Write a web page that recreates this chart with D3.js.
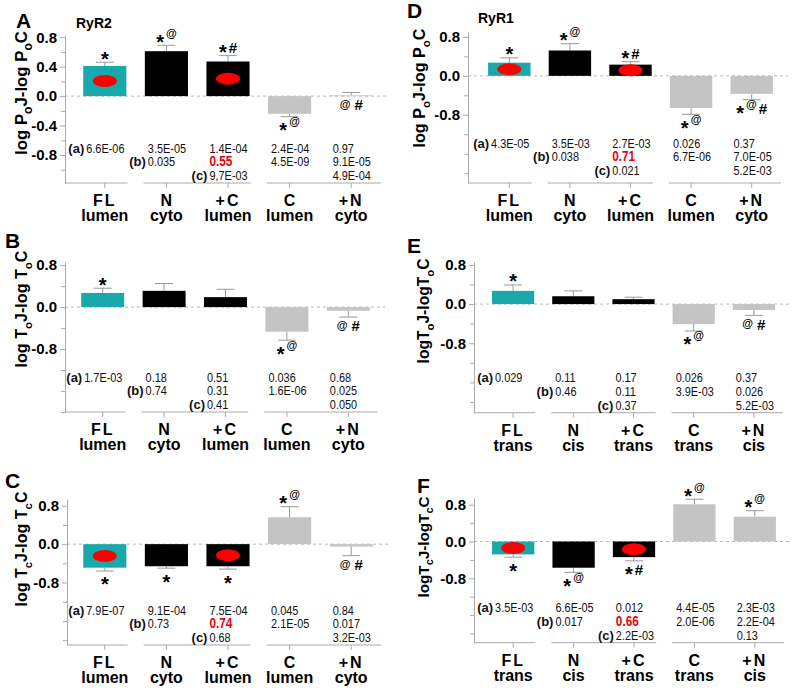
<!DOCTYPE html>
<html><head><meta charset="utf-8">
<script src="https://cdn.jsdelivr.net/npm/d3@7"></script>
<style>body{margin:0;background:#fff} svg{display:block;font-family:Arial,"Liberation Sans",sans-serif}</style>
</head><body><svg id="c" width="799" height="690"></svg>
<script>
// ---------- DATA ----------
const categories = ["FL","N","+C","C","+N"];
const sublabelsLumen = ["lumen","cyto","lumen","lumen","cyto"];
const sublabelsTrans = ["trans","cis","trans","trans","cis"];
const barColors = ["#1aa9aa","#000000","#000000","#c4c4c4","#c4c4c4"];

const valuesA = [0.41, 0.61, 0.47, -0.24, 0.01];
const errorsA = [0.05, 0.08, 0.08, 0.04, 0.04];
const marksA  = ["*","*@","*#","*@","@#"];
const sidesA  = ["up","up","up","down","down"];
const pvalsA  = [["6.6E-06"],["3.5E-05","0.035"],["1.4E-04","0.55","9,7E-03"],["2.4E-04","4.5E-09"],["0.97","9.1E-05","4.9E-04"]];

const valuesB = [0.27, 0.31, 0.19, -0.47, -0.07];
const errorsB = [0.09, 0.14, 0.15, 0.16, 0.12];
const marksB  = ["*","","","*@","@#"];
const sidesB  = ["up","up","up","down","down"];
const pvalsB  = [["1.7E-03"],["0.18","0.74"],["0.51","0.31","0.41"],["0.036","1.6E-06"],["0.68","0.025","0.050"]];

const valuesC = [-0.49, -0.46, -0.46, 0.56, -0.05];
const errorsC = [0.07, 0.04, 0.06, 0.22, 0.19];
const marksC  = ["*","*","*","*@","@#"];
const sidesC  = ["down","down","down","up","down"];
const pvalsC  = [["7.9E-07"],["9.1E-04","0.73"],["7.5E-04","0.74","0.68"],["0.045","2.1E-05"],["0.84","0.017","3.2E-03"]];

const valuesD = [0.27, 0.52, 0.23, -0.66, -0.37];
const errorsD = [0.10, 0.14, 0.06, 0.13, 0.12];
const marksD  = ["*","*@","*#","*@","*@#"];
const sidesD  = ["up","up","up","down","down"];
const pvalsD  = [["4.3E-05"],["3.5E-03","0.038"],["2.7E-03","0.71","0.021"],["0.026","6.7E-06"],["0.37","7.0E-05","5.2E-03"]];

const valuesE = [0.27, 0.16, 0.10, -0.41, -0.12];
const errorsE = [0.12, 0.11, 0.04, 0.14, 0.11];
const marksE  = ["*","","","*@","@#"];
const sidesE  = ["up","up","up","down","down"];
const pvalsE  = [["0.029"],["0.11","0.46"],["0.17","0.11","0.37"],["0.026","3.9E-03"],["0.37","0.026","5.2E-03"]];

const valuesF = [-0.28, -0.57, -0.34, 0.81, 0.54];
const errorsF = [0.06, 0.10, 0.08, 0.11, 0.13];
const marksF  = ["*","*@","*#","*@","*@"];
const sidesF  = ["down","down","down","up","up"];
const pvalsF  = [["3.5E-03"],["6.6E-05","0.017"],["0.012","0.66","2.2E-03"],["4.4E-05","2.0E-06"],["2.3E-03","2.2E-04","0.13"]];

const ylabelA = [["log P",0],["o",1],["J-log P",0],["o",1],["C",0]];
const ylabelB = [["log T",0],["o",1],["J-log T",0],["o",1],["C",0]];
const ylabelC = [["log T",0],["c",1],["J-log T",0],["c",1],["C",0]];
const ylabelD = [["log P",0],["o",1],["J-log P",0],["o",1],["C",0]];
const ylabelE = [["logT",0],["o",1],["J-logT",0],["o",1],["C",0]];
const ylabelF = [["logT",0],["c",1],["J-logT",0],["c",1],["C",0]];

// ---------- LAYOUT ----------
const panels = [
 {letter:"A", values:valuesA, errors:errorsA, marks:marksA, sides:sidesA, pvals:pvalsA, red:true, ell:true, sub:sublabelsLumen, ylab:ylabelA, title:"RyR2",
  L:{axisX:65, top:35, bottom:183, domain:[-1.18,0.83], band:[74,382], major:0.4, minor:0.2, letterPos:[16,28], titlePos:[76,28], ylabPos:[23,93], ylabLen:124, pShift:0}},
 {letter:"B", values:valuesB, errors:errorsB, marks:marksB, sides:sidesB, pvals:pvalsB, red:false, ell:false, sub:sublabelsLumen, ylab:ylabelB,
  L:{axisX:65, top:262, bottom:412, domain:[-2.0,0.86], band:[72,379], major:0.8, minor:0.4, letterPos:[5,248], ylabPos:[23,309], ylabLen:117, pShift:0}},
 {letter:"C", values:valuesC, errors:errorsC, marks:marksC, sides:sidesC, pvals:pvalsC, red:true, ell:true, sub:sublabelsLumen, ylab:ylabelC,
  L:{axisX:67, top:499, bottom:645, domain:[-2.1,0.94], band:[74,382], major:0.8, minor:0.4, letterPos:[5,488], ylabPos:[23,549], ylabLen:115, pShift:0}},
 {letter:"D", values:valuesD, errors:errorsD, marks:marksD, sides:sidesD, pvals:pvalsD, red:true, ell:true, sub:sublabelsLumen, ylab:ylabelD, title:"RyR1",
  L:{axisX:468, top:32, bottom:183, domain:[-2.2,0.9], band:[479,782], major:0.8, minor:0.4, letterPos:[407,18], titlePos:[478,23], ylabPos:[421,88], ylabLen:119, pShift:-5}},
 {letter:"E", values:valuesE, errors:errorsE, marks:marksE, sides:sidesE, pvals:pvalsE, red:false, ell:false, sub:sublabelsTrans, ylab:ylabelE,
  L:{axisX:474, top:262, bottom:412.7, domain:[-2.22,0.86], band:[483,784], major:0.8, minor:0.4, letterPos:[407,253], ylabPos:[425,311], ylabLen:105, pShift:0}},
 {letter:"F", values:valuesF, errors:errorsF, marks:marksF, sides:sidesF, pvals:pvalsF, red:true, ell:true, sub:sublabelsTrans, ylab:ylabelF,
  L:{axisX:474, top:497.8, bottom:642.7, domain:[-2.2,0.95], band:[483,785], major:0.8, minor:0.4, letterPos:[417,493], ylabPos:[425,547], ylabLen:101, pShift:0}}
];

const svg = d3.select("#c");
const AX = "#aaaaaa";
const fmt = d => (Math.abs(d) < 1e-9 ? 0 : d).toFixed(1);

function addMark(g, xc, c, str) {
  if (!str) return;
  const t = g.append("text").attr("x", xc).attr("text-anchor","middle")
    .attr("font-weight","bold").attr("fill","#000");
  const hasStar = str.includes("*");
  let prev = null;
  [...str].forEach((ch, k) => {
    let fs, base;
    if (ch === "*") { fs = 20; base = c + 11.4; }
    else if (ch === "@") { fs = 11; base = hasStar ? c - 0.5 : c + 3; }
    else { fs = 15; base = c + 5.3; }
    const ts = t.append("tspan").attr("font-size", fs).text(ch);
    if (k === 0) t.attr("y", base);
    else ts.attr("dy", base - prev).attr("dx", (ch === "#" && str[k-1] === "@" && !hasStar) ? 4 : 2);
    prev = base;
  });
}

panels.forEach(p => {
  const L = p.L;
  const g = svg.append("g");
  const x = d3.scaleBand().domain(categories).range(L.band).paddingInner(0.3).paddingOuter(0.15);
  const y = d3.scaleLinear().domain(L.domain).range([L.bottom, L.top]);
  const bw = x.bandwidth();
  const cx = c => x(c) + bw / 2;

  // zero dashed line
  g.append("line").attr("x1", L.axisX).attr("x2", L.band[1] + 6)
    .attr("y1", y(0)).attr("y2", y(0))
    .attr("stroke", "#b8b8b8").attr("stroke-dasharray", "3,3");

  // y axis
  const n = Math.round(0.8 / L.major);
  const majors = d3.range(-n, n + 1).map(i => +(i * L.major).toFixed(2));
  const lo = Math.ceil(L.domain[0] / L.minor - 1e-9), hi = Math.floor(L.domain[1] / L.minor + 1e-9);
  const minors = d3.range(lo, hi + 1).map(i => +(i * L.minor).toFixed(2))
    .filter(v => !majors.some(m => Math.abs(m - v) < 1e-9));
  const ya = g.append("g").attr("transform", `translate(${L.axisX},0)`)
    .call(d3.axisLeft(y).tickValues(majors).tickFormat(fmt).tickSize(5).tickSizeOuter(0).tickPadding(3));
  ya.select(".domain").attr("stroke", AX);
  ya.selectAll(".tick line").attr("stroke", AX);
  ya.selectAll(".tick text").attr("font-size", 15).attr("font-weight", "bold").attr("fill", "#000")
    .attr("font-family", "Arial, 'Liberation Sans', sans-serif");
  const ym = g.append("g").attr("transform", `translate(${L.axisX},0)`)
    .call(d3.axisLeft(y).tickValues(minors).tickFormat("").tickSize(4).tickSizeOuter(0));
  ym.select(".domain").remove();
  ym.selectAll(".tick line").attr("stroke", AX);

  // x axis segments
  const b1 = x("FL") + bw, n0 = x("N"), c1 = x("+C") + bw, C0 = x("C"), N1 = x("+N") + bw;
  const m1 = (b1 + n0) / 2, m2 = (c1 + C0) / 2;
  [[L.axisX, m1 - 8], [m1 + 8, m2 - 8], [m2 + 8, N1 + 8]].forEach(s => {
    g.append("line").attr("x1", s[0]).attr("x2", s[1]).attr("y1", L.bottom).attr("y2", L.bottom).attr("stroke", AX);
  });
  categories.forEach(c => {
    g.append("line").attr("x1", cx(c)).attr("x2", cx(c)).attr("y1", L.bottom).attr("y2", L.bottom + 5).attr("stroke", AX);
  });

  // bars
  categories.forEach((c, i) => {
    const v = p.values[i], e = p.errors[i];
    const y0 = y(0), yv = y(v);
    const ye = y(v >= 0 ? v + e : v - e);
    g.append("line").attr("x1", cx(c)).attr("x2", cx(c)).attr("y1", yv).attr("y2", ye).attr("stroke", "#999");
    g.append("line").attr("x1", cx(c) - 9).attr("x2", cx(c) + 9).attr("y1", ye).attr("y2", ye).attr("stroke", "#999");
    g.append("rect").attr("x", x(c)).attr("width", bw)
      .attr("y", Math.min(y0, yv)).attr("height", Math.max(0.8, Math.abs(yv - y0)))
      .attr("fill", barColors[i]);
    if (p.ell && (i === 0 || i === 2)) {
      g.append("ellipse").attr("cx", cx(c)).attr("cy", (yv + y0) / 2).attr("rx", 12).attr("ry", 6).attr("fill", "#ff0000");
    }
    if (p.marks[i]) {
      let cc;
      if (p.sides[i] === "up") cc = y(Math.max(0, v) + (v >= 0 ? e : 0)) - 8;
      else cc = y(Math.min(0, v) - (v < 0 ? e : 0)) + 9;
      addMark(g, cx(c), cc, p.marks[i]);
    }
    g.append("text").attr("x", cx(c)).attr("y", L.bottom + 23).attr("text-anchor", "middle")
      .attr("font-size", 16).attr("font-weight", "bold").attr("letter-spacing", c.length > 1 ? 2 : 0).text(c);
    g.append("text").attr("x", cx(c)).attr("y", L.bottom + 38).attr("text-anchor", "middle")
      .attr("font-size", 16).attr("font-weight", "bold").text(p.sub[i]);
  });

  // p-values
  const rowY = [L.bottom - 30.5 + L.pShift, L.bottom - 16.7 + L.pShift, L.bottom - 2.9 + L.pShift];
  const colX = i => x(categories[i]) + 3;
  p.pvals.forEach((col, i) => col.forEach((v, r) => {
    const red = p.red && i === 2 && r === 1;
    g.append("text").attr("transform", `translate(${colX(i)},${rowY[r]}) scale(0.84,1)`)
      .attr("font-size", red ? 14 : 13).attr("font-weight", red ? "bold" : "normal")
      .attr("fill", red ? "#e8000b" : "#111").text(v);
  }));
  [["(a)", 0, 0], ["(b)", 1, 1], ["(c)", 2, 2]].forEach(([t, i, r]) => {
    g.append("text").attr("x", colX(i) - 2).attr("y", rowY[r]).attr("text-anchor", "end")
      .attr("font-size", 13).attr("font-weight", "bold").attr("fill", "#111").text(t);
  });

  // panel letter and title
  g.append("text").attr("x", L.letterPos[0]).attr("y", L.letterPos[1]).attr("font-size", 21)
    .attr("font-weight", "bold").text(p.letter);
  if (p.title) g.append("text").attr("x", L.titlePos[0]).attr("y", L.titlePos[1]).attr("font-size", 14)
    .attr("font-weight", "bold").text(p.title);

  // y label with subscripts, fitted to target length
  const yl = g.append("text").attr("text-anchor", "middle").attr("font-weight", "bold");
  function build(fs) {
    yl.selectAll("*").remove();
    yl.attr("font-size", fs)
      .attr("transform", `translate(${L.ylabPos[0] + 0.25 * fs},${L.ylabPos[1]}) rotate(-90)`);
    let prevSub = false;
    p.ylab.forEach(([t, s]) => {
      const ts = yl.append("tspan").text(t);
      if (s) { ts.attr("font-size", fs * 0.72).attr("dy", fs * 0.3); }
      else if (prevSub) { ts.attr("dy", -fs * 0.3); }
      prevSub = !!s;
    });
  }
  build(16);
  const len = yl.node().getComputedTextLength();
  build(16 * L.ylabLen / len);
});
</script></body></html>
